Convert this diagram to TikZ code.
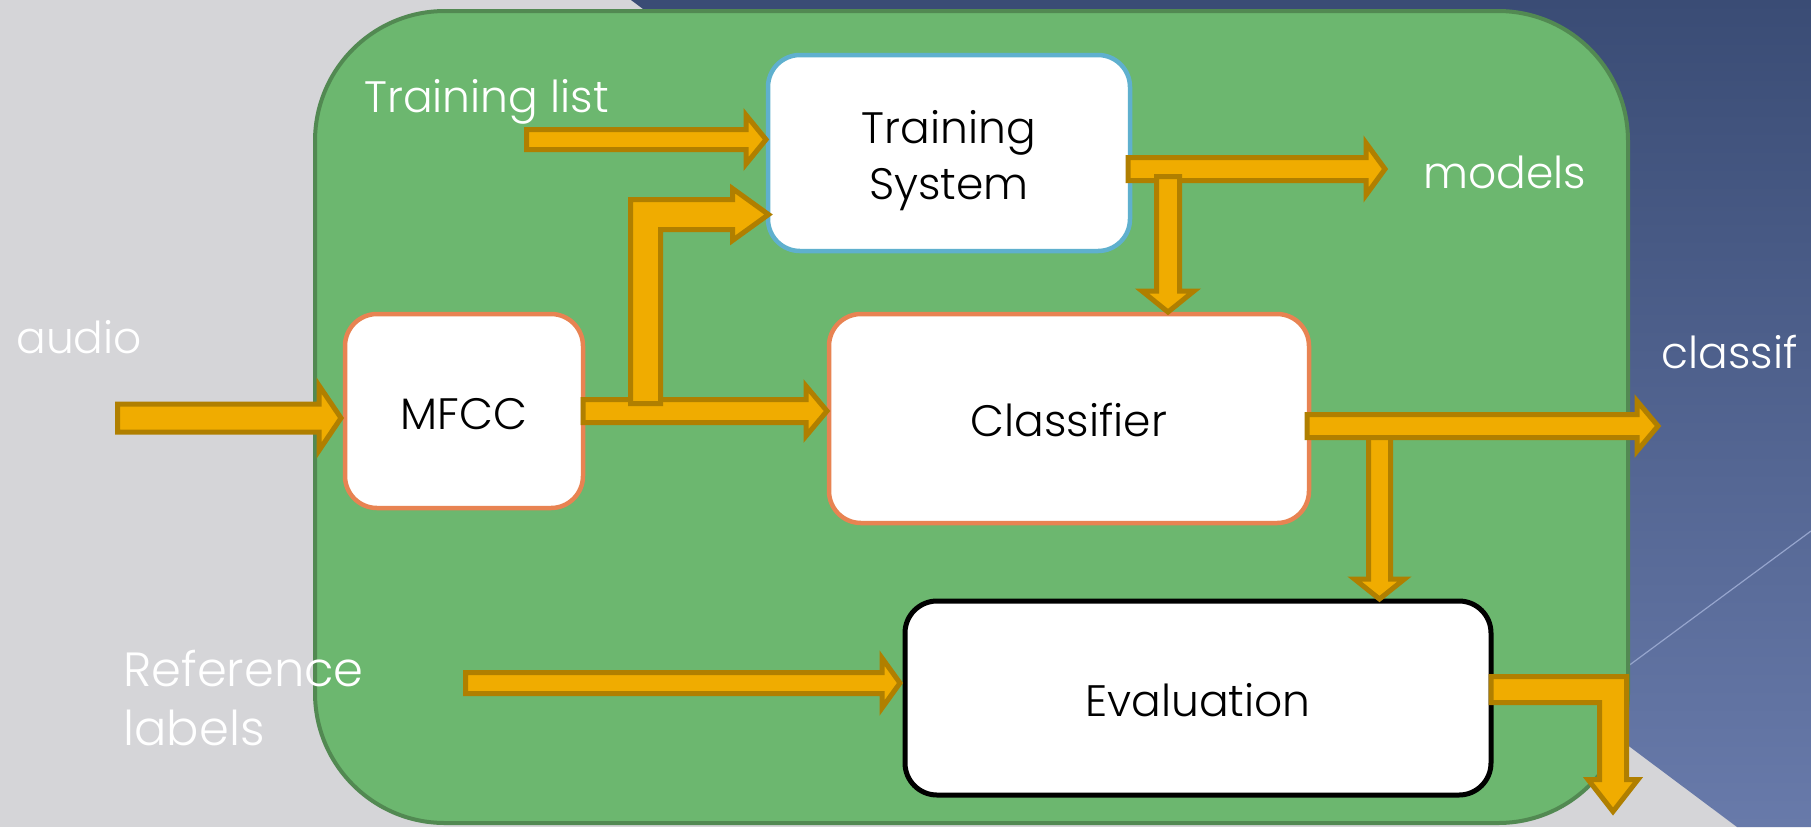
\documentclass[tikz,border=0pt]{standalone}
\usepackage{fontspec}
\setmainfont{Poppins Light}
\usetikzlibrary{calc}

\definecolor{slidegray}{RGB}{213,213,216}
\definecolor{slideblueA}{RGB}{58,76,117}
\definecolor{slideblueB}{RGB}{104,122,170}
\definecolor{slideline}{RGB}{150,165,205}
\definecolor{panelfill}{RGB}{108,183,111}
\definecolor{paneledge}{RGB}{82,137,82}
\definecolor{arrowfill}{RGB}{240,172,0}
\definecolor{arrowedge}{RGB}{176,127,0}
\definecolor{edgeorange}{RGB}{232,131,82}
\definecolor{edgeblue}{RGB}{95,176,206}

% one drawing unit (pixel) in absolute length
\newcommand\pxu{0.5pt}

\tikzset{
  blk/.style={draw, fill=white, rounded corners=16pt, line width=2.25pt,
    inner sep=0pt, outer sep=0pt, text=black,
    font=\fontsize{22}{28}\selectfont},
  onebox/.style={text height=18pt, text depth=0pt},
  lbl/.style={text=white, inner sep=0pt, anchor=base west,
    font=\fontsize{22}{28}\selectfont},
  barrow/.style={draw=arrowedge, fill=arrowfill, line width=2.5pt, line join=miter},
}

% block arrow pointing right: start, tip, shaft half, head half, head length
\newcommand\rblock[5]{%
  \draw[barrow] let \p1=(#1), \p2=(#2) in
    (\x1,{\y2+#3*\pxu}) -- ({\x2-#5*\pxu},{\y2+#3*\pxu}) -- ({\x2-#5*\pxu},{\y2+#4*\pxu})
    -- (\x2,\y2) -- ({\x2-#5*\pxu},{\y2-#4*\pxu}) -- ({\x2-#5*\pxu},{\y2-#3*\pxu})
    -- (\x1,{\y2-#3*\pxu}) -- cycle;}
% block arrow pointing down: start, tip, shaft half, head half, head length
\newcommand\dblock[5]{%
  \draw[barrow] let \p1=(#1), \p2=(#2) in
    ({\x2-#3*\pxu},\y1) -- ({\x2-#3*\pxu},{\y2+#5*\pxu}) -- ({\x2-#4*\pxu},{\y2+#5*\pxu})
    -- (\x2,\y2) -- ({\x2+#4*\pxu},{\y2+#5*\pxu}) -- ({\x2+#3*\pxu},{\y2+#5*\pxu})
    -- ({\x2+#3*\pxu},\y1) -- cycle;}

\begin{document}
\begin{tikzpicture}[x=0.5pt,y=-0.5pt]
  \useasboundingbox (0,0) rectangle (1811,827);
  % slide background
  \fill[slidegray] (0,0) rectangle (1811,827);
  \shade[top color=slideblueA, bottom color=slideblueB]
    (631,0) -- (1811,0) -- (1811,827) -- (1737,827) -- cycle;
  \draw[slideline, line width=0.6pt] (1811,531) -- (1574,706);

  % system panel
  \draw[fill=panelfill, draw=paneledge, line width=2pt, rounded corners=65pt]
    (315,11) rectangle (1628,823);

  % processing blocks
  \node[blk, draw=edgeblue, minimum width=181pt, minimum height=98pt,
    align=center, text height=46pt, text depth=0pt]
    (ts) at (949,153) {Training\\System};
  \node[blk, onebox, draw=edgeorange, minimum width=119pt, minimum height=97pt]
    (mfcc) at (464,411) {MFCC};
  \node[blk, onebox, draw=edgeorange, minimum width=240pt, minimum height=104.5pt]
    (cls) at (1069,418.5) {Classifier};
  \node[blk, onebox, draw=black, line width=2.5pt, minimum width=293pt, minimum height=97pt]
    (ev) at (1198,698) {Evaluation};

  % outside labels
  \node[lbl] (tlist) at (364,112) {Training list};
  \node[lbl] (audio) at (16,353) {audio};
  \node[lbl] (models) at (1423,188) {models};
  \node[lbl] (classif) at (1661,368) {classif};
  \node[lbl, align=left, font=\fontsize{24}{29.5}\selectfont] (reflab) at (123,745) {Reference\\labels};

  % arrow end points
  \coordinate (a1s) at (526.5,139.5);
  \coordinate (a1t) at ($(ts.west)+(-2,-13.5)$);
  \coordinate (a4s) at (117.5,418);
  \coordinate (a4t) at ($(mfcc.west)+(-4,7)$);
  \coordinate (a3s) at (mfcc.east);
  \coordinate (a3t) at ($(cls.west)+(-2,-7.5)$);
  \coordinate (a2s) at ($(mfcc.east)+(62.5,-7.5)$);
  \coordinate (a2t) at ($(ts.west)+(0.5,61.5)$);
  \coordinate (a5s) at ($(ts.east)+(-2,16)$);
  \coordinate (a5t) at (1385,169);
  \coordinate (a5d) at (1168,176.5);
  \coordinate (a5e) at ($(cls.north)+(99,-2)$);
  \coordinate (a6s) at ($(cls.east)+(-2,0)$);
  \coordinate (a6t) at (1658,426);
  \coordinate (a6d) at (1379.5,437);
  \coordinate (a6e) at ($(ev.north)+(181.5,-2)$);
  \coordinate (a7s) at (465.5,683);
  \coordinate (a7t) at ($(ev.west)+(-5,-15)$);
  \coordinate (a8s) at ($(ev.east)+(0,-8.5)$);
  \coordinate (a8t) at (1613,811.5);

  % straight block arrows
  \rblock{a1s}{a1t}{10}{24.5}{20}
  \rblock{a4s}{a4t}{14}{32.5}{22}
  \rblock{a3s}{a3t}{11.5}{25}{21}
  \rblock{a5s}{a5t}{11.5}{26}{19}
  \dblock{a5d}{a5e}{11.5}{26}{21}
  \dblock{a6d}{a6e}{11}{25}{20}
  \rblock{a6s}{a6t}{11.5}{25}{21}
  \rblock{a7s}{a7t}{10.5}{25}{18}

  % bent arrow: MFCC features up into the training system
  \draw[barrow] let \p1=(a2s), \p2=(a2t) in
    ({\x1-15*\pxu},\y1) -- ({\x1-15*\pxu},{\y2+15*\pxu}) -- ({\x2-36*\pxu},{\y2+15*\pxu})
    -- ({\x2-36*\pxu},{\y2+26*\pxu}) -- (\x2,\y2) -- ({\x2-36*\pxu},{\y2-26*\pxu})
    -- ({\x2-36*\pxu},{\y2-15*\pxu}) -- ({\x1+15*\pxu},{\y2-15*\pxu}) -- ({\x1+15*\pxu},\y1) -- cycle;

  % bent arrow: evaluation result out and down
  \draw[barrow] let \p1=(a8s), \p2=(a8t) in
    (\x1,{\y1+13*\pxu}) -- ({\x2+13.5*\pxu},{\y1+13*\pxu}) -- ({\x2+13.5*\pxu},{\y2+32*\pxu})
    -- ({\x2+25*\pxu},{\y2+32*\pxu}) -- (\x2,\y2) -- ({\x2-25*\pxu},{\y2+32*\pxu})
    -- ({\x2-13.5*\pxu},{\y2+32*\pxu}) -- ({\x2-13.5*\pxu},{\y1-13*\pxu}) -- (\x1,{\y1-13*\pxu}) -- cycle;
\end{tikzpicture}
\end{document}
